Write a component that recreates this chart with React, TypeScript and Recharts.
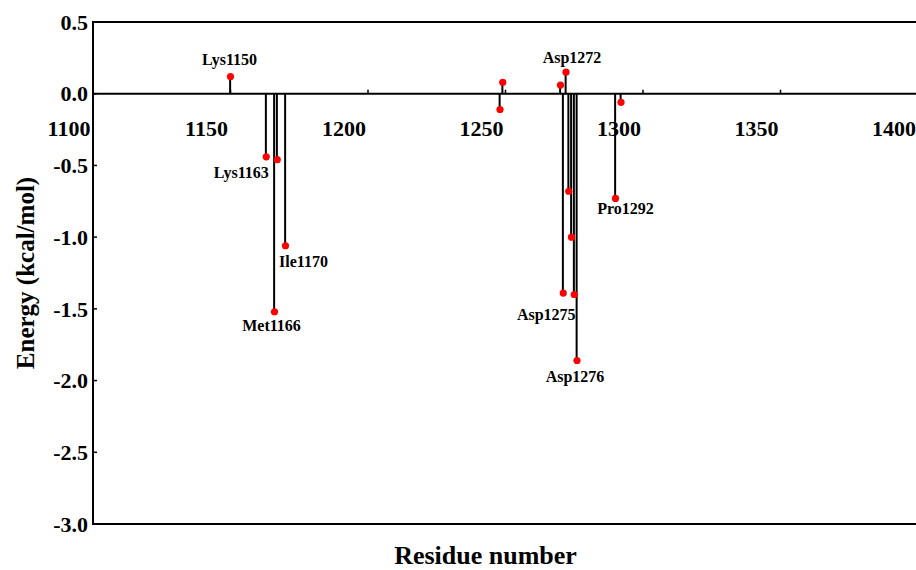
import { ComposedChart, XAxis, YAxis, Bar, Scatter, ReferenceLine, ReferenceArea } from "recharts";

// residue numbers and binding energy contributions (kcal/mol)
const residues = [1150, 1163, 1166, 1167, 1170, 1248, 1249, 1270, 1271, 1272, 1273, 1274, 1275, 1276, 1290, 1292];
const energies = [0.12, -0.44, -1.52, -0.46, -1.06, -0.11, 0.08, 0.06, -1.39, 0.15, -0.68, -1.0, -1.4, -1.86, -0.73, -0.06];

const xTicks = [1100, 1150, 1200, 1250, 1300, 1350, 1400];
const yTicks = [0.5, 0.0, -0.5, -1.0, -1.5, -2.0, -2.5, -3.0];

// annotated residues
const labelNames = ["Lys1150", "Lys1163", "Met1166", "Ile1170", "Asp1272", "Asp1275", "Asp1276", "Pro1292"];
const labelResidues = [1150, 1163, 1166, 1170, 1272, 1275, 1276, 1290];

const FONT = '"Liberation Serif", "Times New Roman", serif';

// where each annotation sits relative to its dot
const labelOffsets = {
  Lys1150: [-1, -17],
  Lys1163: [-25, 16],
  Met1166: [-3, 14],
  Ile1170: [18, 16],
  Asp1272: [6, -15],
  Asp1275: [-28, 20],
  Asp1276: [-2, 16],
  Pro1292: [10, 10],
};

const data = residues.map((r, i) => ({ residue: r, energy: energies[i] }));
const tickData = xTicks.map((t) => ({ residue: t, energy: 0 }));
const labelData = labelNames.map((n, i) => {
  const r = labelResidues[i];
  return { residue: r, energy: energies[residues.indexOf(r)], name: n };
});

const YTick = ({ x, y, payload }) => (
  <g>
    <line x1={x + 5} x2={x + 9} y1={y} y2={y} stroke="#000" strokeWidth={1.5} />
    <text x={x} y={y} dy="0.35em" textAnchor="end" fontFamily={FONT} fontWeight="bold" fontSize={22} fill="#000">
      {Number(payload.value).toFixed(1)}
    </text>
  </g>
);

const ZeroTick = ({ cx, cy, payload }) => (
  <g>
    <line x1={cx} x2={cx} y1={cy} y2={cy - 4} stroke="#000" strokeWidth={1.5} />
    <text x={cx - 24} y={cy + 35} dy="0.35em" textAnchor="middle" fontFamily={FONT} fontWeight="bold" fontSize={22} fill="#000">
      {payload.residue}
    </text>
  </g>
);

const Dot = ({ cx, cy }) => <circle cx={cx} cy={cy} r={3.6} fill="#ff0000" />;

const ResLabel = ({ cx, cy, payload }) => {
  const [dx, dy] = labelOffsets[payload.name] || [0, 0];
  return (
    <text x={cx + dx} y={cy + dy} dy="0.35em" textAnchor="middle" fontFamily={FONT} fontWeight="bold" fontSize={16} fill="#000">
      {payload.name}
    </text>
  );
};

export default function App() {
  return (
    <div style={{ position: "absolute", left: 0, top: 0, width: 916, height: 570, overflow: "hidden", background: "#fff" }}>
      <ComposedChart width={920} height={570} data={data} margin={{ top: 22, right: 2, bottom: 0, left: 0 }}>
        <ReferenceArea x1={1100} x2={1400} y1={-3} y2={0.5} fill="none" stroke="#000" strokeWidth={2} />
        <XAxis
          dataKey="residue"
          type="number"
          domain={[1100, 1400]}
          ticks={xTicks}
          tick={false}
          tickLine={false}
          axisLine={{ stroke: "#000", strokeWidth: 2 }}
          height={46}
          label={{
            content: ({ viewBox }) => (
              <text
                x={viewBox.x + viewBox.width / 2 - 20}
                y={viewBox.y + 40}
                textAnchor="middle"
                fontFamily={FONT}
                fontWeight="bold"
                fontSize={26}
                fill="#000"
              >
                Residue number
              </text>
            ),
          }}
        />
        <YAxis
          type="number"
          domain={[-3, 0.5]}
          ticks={yTicks}
          width={93}
          tickSize={0}
          tickMargin={5}
          tickLine={false}
          tick={<YTick />}
          axisLine={{ stroke: "#000", strokeWidth: 2 }}
          label={{
            content: ({ viewBox }) => (
              <text
                x={viewBox.x + 25}
                y={viewBox.y + viewBox.height / 2}
                transform={`rotate(-90, ${viewBox.x + 25}, ${viewBox.y + viewBox.height / 2})`}
                dy="0.35em"
                textAnchor="middle"
                fontFamily={FONT}
                fontWeight="bold"
                fontSize={25}
                fill="#000"
              >
                Energy (kcal/mol)
              </text>
            ),
          }}
        />
        <ReferenceLine y={0} stroke="#000" strokeWidth={2} />
        <Scatter data={tickData} dataKey="energy" shape={<ZeroTick />} isAnimationActive={false} />
        <Bar dataKey="energy" barSize={2} fill="#000" isAnimationActive={false} />
        <Scatter data={data} dataKey="energy" shape={<Dot />} isAnimationActive={false} />
        <Scatter data={labelData} dataKey="energy" shape={<ResLabel />} isAnimationActive={false} />
      </ComposedChart>
    </div>
  );
}
